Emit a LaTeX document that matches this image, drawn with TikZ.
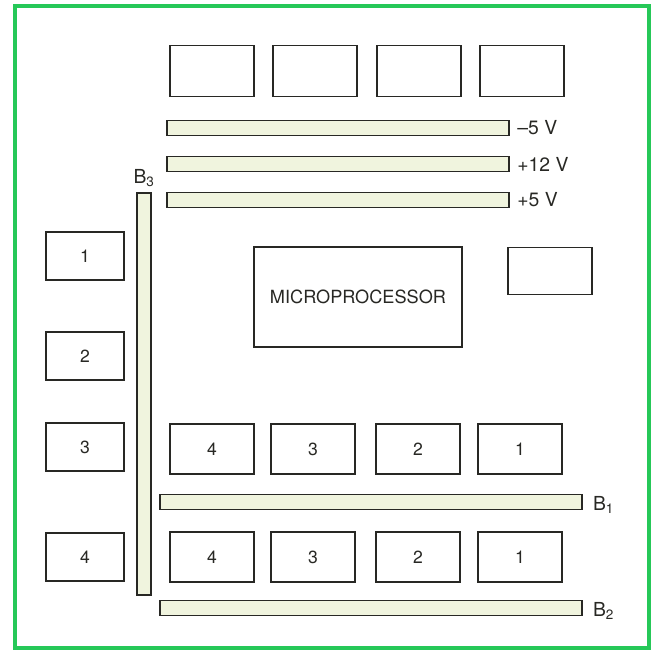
\documentclass[tikz,border=0pt]{standalone}
\usepackage{fontspec}
\setmainfont{TeX Gyre Heros}
\definecolor{boardgreen}{RGB}{38,200,88}
\definecolor{barfill}{RGB}{240,244,222}
\definecolor{inkgray}{RGB}{40,40,36}
\usetikzlibrary{positioning}

\begin{document}
\begin{tikzpicture}[x=0.3mm, y=-0.3mm,
                chip/.style={rectangle, draw=inkgray, line width=1.4pt, fill=white,
                            minimum width=25.2mm, minimum height=15mm, inner sep=0pt,
                            text=inkgray, font=\fontsize{15}{17}\selectfont},
                bus/.style={rectangle, draw=inkgray, line width=1.4pt, fill=barfill,
                            minimum height=4.6mm, inner sep=0pt},
                tag/.style={inner sep=0pt, text=inkgray, font=\fontsize{16.5}{19}\selectfont}
            ]
                \useasboundingbox (0,0) rectangle (656,652);
                \draw[boardgreen, line width=3.4pt] (15,6) rectangle (649,648);

                % top row
                \node[chip, minimum height=15.3mm] (t1) at (212,71) {};
                \node[chip, minimum height=15.3mm] (t2) at (315,71) {};
                \node[chip, minimum height=15.3mm] (t3) at (419,71) {};
                \node[chip, minimum height=15.3mm] (t4) at (522,71) {};

                % supply rails
                \node[bus, minimum width=102.6mm] (m5) at (338,128) {};
                \node[bus, minimum width=102.6mm] (p12) at (338,164) {};
                \node[bus, minimum width=102.6mm] (p5) at (338,200) {};
                \node[tag, right=2.2mm of m5] {--5 V};
                \node[tag, right=2.2mm of p12] {+12 V};
                \node[tag, right=2.2mm of p5] {+5 V};

                % B3 bus and left column
                \node[bus, minimum width=4.2mm, minimum height=120.6mm] (b3) at (144,394) {};
                \node[tag, above=1.6mm of b3] {B\textsubscript{3}};
                \node[chip, minimum width=23.4mm, minimum height=14.4mm] (l1) at (85,256) {1};
                \node[chip, minimum width=23.4mm, minimum height=14.4mm] (l2) at (85,356) {2};
                \node[chip, minimum width=23.4mm, minimum height=14.4mm] (l3) at (85,447) {3};
                \node[chip, minimum width=23.4mm, minimum height=14.4mm] (l4) at (85,557) {4};

                \node[chip, minimum width=62.4mm, minimum height=30mm,
                      font=\fontsize{15.5}{18}\selectfont] (cpu) at (358,297) {MICROPROCESSOR};
                \node[chip, minimum height=14.1mm] (aux) at (550,271) {};

                % B1 row
                \node[chip] (a4) at (212,449) {4};
                \node[chip] (a3) at (313,449) {3};
                \node[chip] (a2) at (418,449) {2};
                \node[chip] (a1) at (520,449) {1};
                \node[bus, minimum width=126.6mm] (b1) at (371,502) {};
                \node[tag, right=3mm of b1, yshift=-1mm] {B\textsubscript{1}};

                % B2 row
                \node[chip] (c4) at (212,557) {4};
                \node[chip] (c3) at (313,557) {3};
                \node[chip] (c2) at (418,557) {2};
                \node[chip] (c1) at (520,557) {1};
                \node[bus, minimum width=126.6mm] (b2) at (371,608) {};
                \node[tag, right=3mm of b2, yshift=-1mm] {B\textsubscript{2}};
            \end{tikzpicture}
\end{document}
